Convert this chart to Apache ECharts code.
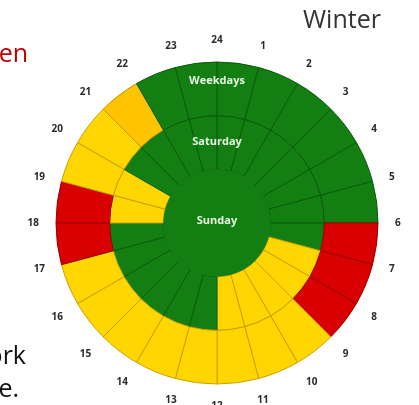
<!DOCTYPE html>
<html>
<head>
<meta charset="utf-8">
<script src="https://cdn.jsdelivr.net/npm/echarts@6/dist/echarts.min.js"></script>
<style>
  html, body { margin: 0; padding: 0; background: #fff; }
  #chart { width: 419px; height: 405px; }
</style>
</head>
<body>
<div id="chart"></div>
<script>
// hour labels, placed on the boundaries (0 == 24 at the top)
const hourLabels = [
  '24', '1', '2', '3', '4', '5', '6', '7', '8', '9', '10', '11',
  '12', '13', '14', '15', '16', '17', '18', '19', '20', '21', '22', '23',
]

const rings = ['Sunday', 'Saturday', 'Weekdays']

// status of each hour slot (slot i spans hour i to i+1)
// G = green, Y = yellow, O = orange, R = red
const weekdays = [
  'G', 'G', 'G', 'G', 'G', 'G', 'R', 'R', 'R', 'Y', 'Y', 'Y',
  'Y', 'Y', 'Y', 'Y', 'Y', 'R', 'R', 'Y', 'Y', 'O', 'G', 'G',
]
const saturday = [
  'G', 'G', 'G', 'G', 'G', 'G', 'G', 'Y', 'Y', 'Y', 'Y', 'Y',
  'G', 'G', 'G', 'G', 'G', 'G', 'Y', 'Y', 'G', 'G', 'G', 'G',
]
const sunday = [
  'G', 'G', 'G', 'G', 'G', 'G', 'G', 'G', 'G', 'G', 'G', 'G',
  'G', 'G', 'G', 'G', 'G', 'G', 'G', 'G', 'G', 'G', 'G', 'G',
]

const fill = { G: '#137f13', Y: '#ffd600', O: '#ffc400', R: '#d80000' }
const edge = { G: '#0a5a0a', Y: '#c8a000', O: '#c89000', R: '#9a0000' }

const center = [217, 223]

function cell(code) {
  return {
    value: 1,
    itemStyle: { color: fill[code], borderColor: edge[code], borderWidth: 1 },
  }
}

// weekday and saturday rings: one stacked slice per hour
const series = hourLabels.map((h, i) => ({
  type: 'bar',
  coordinateSystem: 'polar',
  stack: 'day',
  barCategoryGap: '0%',
  barGap: '-100%',
  silent: true,
  data: ['-', cell(saturday[i]), cell(weekdays[i])],
}))

// sunday disk has no hour dividers: merge runs of the same status
let runs = []
sunday.forEach(code => {
  const last = runs[runs.length - 1]
  if (last && last.code === code) last.len++
  else runs.push({ code: code, len: 1 })
})
runs.forEach(r => series.push({
  type: 'bar',
  coordinateSystem: 'polar',
  stack: 'sun',
  barCategoryGap: '0%',
  barGap: '-100%',
  silent: true,
  data: [{ value: r.len, itemStyle: { color: fill[r.code], borderWidth: 0 } }, '-', '-'],
}))

const ringText = (text, dy) => ({
  type: 'text',
  x: center[0],
  y: center[1] + dy,
  style: {
    text: text,
    fill: '#e8f5e0',
    font: 'bold 11px "Open Sans", sans-serif',
    textAlign: 'center',
    textVerticalAlign: 'middle',
  },
  z: 10,
})

echarts.init(document.getElementById('chart')).setOption({
  animation: false,
  polar: {
    center: center,
    radius: 161,
  },
  angleAxis: {
    type: 'value',
    min: 0,
    max: 24,
    interval: 1,
    startAngle: 90,
    clockwise: true,
    axisLine: { show: false },
    axisTick: { show: false },
    splitLine: { show: false },
    axisLabel: {
      margin: 17,
      color: '#2a2a2a',
      fontWeight: 'bold',
      fontSize: 10,
      fontFamily: '"Open Sans", sans-serif',
      formatter: v => hourLabels[v % 24],
    },
  },
  radiusAxis: {
    type: 'category',
    data: rings,
    axisLine: { show: false },
    axisTick: { show: false },
    axisLabel: { show: false },
    splitLine: { show: false },
  },
  series: series,
  graphic: [
    ringText('Weekdays', -142),
    ringText('Saturday', -81),
    ringText('Sunday', -2),
    {
      type: 'text',
      left: 303,
      top: 8,
      style: {
        text: 'Winter',
        fill: '#333',
        font: '25px "Open Sans", sans-serif',
      },
    },
    {
      type: 'text',
      x: 28,
      y: 55,
      style: {
        text: 'en',
        fill: '#c00000',
        font: '25px "Open Sans", sans-serif',
        textAlign: 'right',
        textVerticalAlign: 'middle',
      },
    },
    {
      type: 'text',
      x: 26,
      y: 357,
      style: {
        text: 'ork',
        fill: '#111',
        font: '25px "Open Sans", sans-serif',
        textAlign: 'right',
        textVerticalAlign: 'middle',
      },
    },
    {
      type: 'text',
      x: 19,
      y: 390,
      style: {
        text: 'le.',
        fill: '#111',
        font: '25px "Open Sans", sans-serif',
        textAlign: 'right',
        textVerticalAlign: 'middle',
      },
    },
  ],
})
</script>
</body>
</html>
